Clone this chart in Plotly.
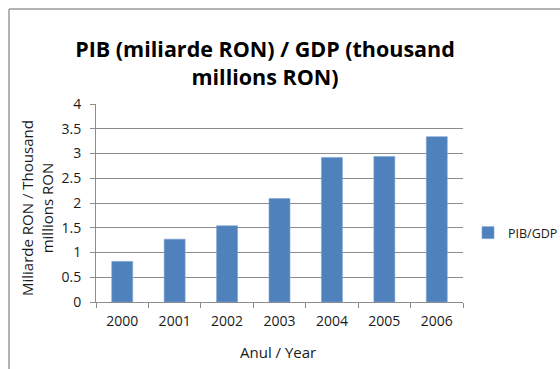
import plotly.graph_objects as go

# GDP per year, thousand millions RON
years = ["2000", "2001", "2002", "2003", "2004", "2005", "2006"]
gdp = [0.82, 1.27, 1.54, 2.09, 2.92, 2.94, 3.34]
y_ticks = [0, 0.5, 1, 1.5, 2, 2.5, 3, 3.5, 4]
y_tick_text = ["0", "0.5", "1", "1.5", "2", "2.5", "3", "3.5", "4"]

FONT = "Open Sans"
GRID = "#8c8c8c"
TEXT = "#1a1a1a"

fig = go.Figure()
fig.add_trace(go.Bar(
    x=years, y=gdp, name="PIB/GDP",
    marker=dict(color="#4F81BD", line=dict(color="#7fa3d3", width=0.6)),
    width=0.4,
))

W, H = 560, 369
L, R, T, B = 96, 97, 104, 67
pw, ph = W - L - R, H - T - B

def px(x):
    return (x - L) / pw

def py(y):
    return (H - B - y) / ph

fig.update_layout(
    width=W, height=H,
    margin=dict(l=L, r=R, t=T, b=B, autoexpand=False),
    paper_bgcolor="white", plot_bgcolor="white",
    font=dict(family=FONT, size=14, color=TEXT),
    title=dict(
        text="<b>PIB (miliarde RON) / GDP (thousand<br>millions RON)</b>",
        x=265 / W, y=1 - 57 / H, xanchor="center", yanchor="middle",
        font=dict(family=FONT, size=21.5, color="#000000"),
    ),
    showlegend=True,
    legend=dict(x=px(468), y=py(233), xanchor="left", yanchor="middle",
                itemwidth=30, font=dict(size=12.5),
                bgcolor="rgba(0,0,0,0)"),
    bargap=0.6,
    xaxis=dict(
        type="category", tickson="boundaries", ticks="outside", ticklen=5,
        tickcolor=GRID, showline=True, linecolor=GRID, linewidth=1,
        showgrid=False, tickfont=dict(size=14), ticklabelstandoff=6,
    ),
    yaxis=dict(
        range=[0, 4], tickvals=y_ticks, ticktext=y_tick_text,
        ticks="outside", ticklen=5, tickcolor=GRID,
        showline=True, linecolor=GRID, linewidth=1,
        showgrid=True, gridcolor=GRID, gridwidth=1,
        tickfont=dict(size=14), zeroline=False, ticklabelstandoff=6,
    ),
    annotations=[
        dict(text="Miliarde RON / Thousand<br>millions RON", textangle=-90,
             xref="paper", yref="paper", x=px(37), y=py(208),
             xanchor="center", yanchor="middle", showarrow=False,
             font=dict(size=15)),
        dict(text="Anul / Year", xref="paper", yref="paper",
             x=px(278), y=py(352), xanchor="center", yanchor="middle",
             showarrow=False, font=dict(size=15)),
    ],
    shapes=[
        dict(type="line", xref="paper", yref="paper",
             x0=px(9), x1=px(9), y0=py(372), y1=py(9),
             line=dict(color="#9a9a9a", width=1.5)),
        dict(type="line", xref="paper", yref="paper",
             x0=px(9), x1=px(565), y0=py(9), y1=py(9),
             line=dict(color="#9a9a9a", width=1.5)),
    ],
)

fig.write_html("out.html")
